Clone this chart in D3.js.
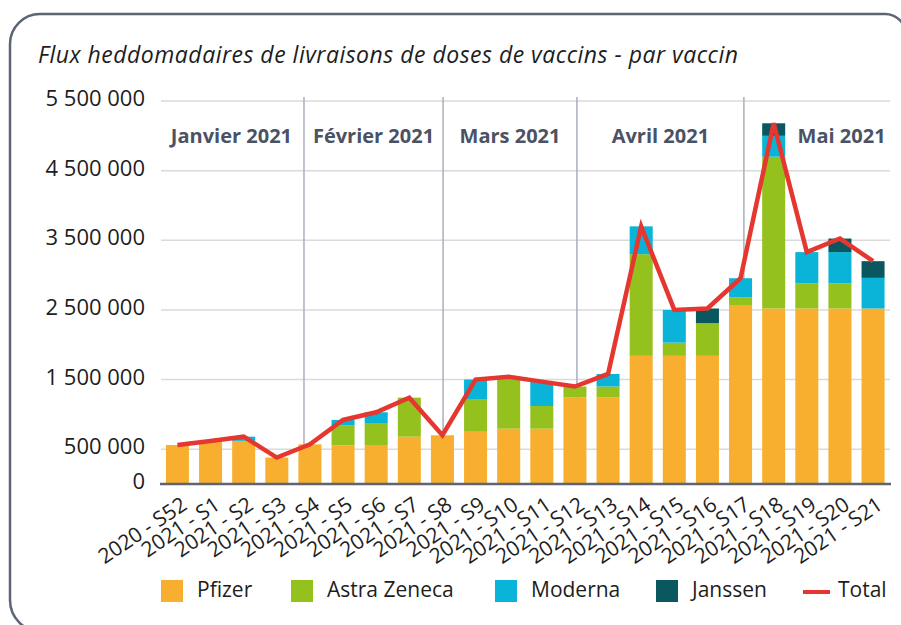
<!DOCTYPE html>
<html><head><meta charset="utf-8">
<script src="https://cdn.jsdelivr.net/npm/d3@7"></script>
<style>
body{margin:0;background:#fff}
svg{display:block}
text{font-family:"Open Sans",sans-serif}
</style>
</head><body>
<svg id="chart" width="901" height="625"></svg>
<script>
const categories = ["2020 - S52","2021 - S1","2021 - S2","2021 - S3","2021 - S4","2021 - S5","2021 - S6","2021 - S7","2021 - S8","2021 - S9","2021 - S10","2021 - S11","2021 - S12","2021 - S13","2021 - S14","2021 - S15","2021 - S16","2021 - S17","2021 - S18","2021 - S19","2021 - S20","2021 - S21"];
const pfizer      = [560000,618000,620000,380000,570000,556000,560000,680000,700000,750000,795000,795000,1246000,1246000,1840000,1840000,1840000,2570000,2520000,2520000,2520000,2520000];
const astraZeneca = [0,0,0,0,0,284000,316000,560000,0,470000,745000,325000,154000,154000,1460000,190000,470000,110000,2180000,360000,360000,0];
const moderna     = [0,0,60000,0,0,80000,154000,0,0,280000,0,350000,0,180000,400000,470000,0,275000,300000,450000,450000,440000];
const janssen     = [0,0,0,0,0,0,0,0,0,0,0,0,0,0,0,0,210000,0,180000,0,195000,240000];
const seriesNames = ["Pfizer","Astra Zeneca","Moderna","Janssen"];
const yTicks = [0,500000,1500000,2500000,3500000,4500000,5500000];
const months = ["Janvier 2021","Février 2021","Mars 2021","Avril 2021","Mai 2021"];
const monthBounds = [-0.56, 3.82, 8.02, 12.06, 17.1, 23.0];
const title = "Flux heddomadaires de livraisons de doses de vaccins - par vaccin";

const colors = {"Pfizer":"#f8af2f","Astra Zeneca":"#95c11f","Moderna":"#0ab4d9","Janssen":"#0b5760"};
const totalColor = "#e5372f";

const rows = categories.map((c,i)=>({cat:c,"Pfizer":pfizer[i],"Astra Zeneca":astraZeneca[i],"Moderna":moderna[i],"Janssen":janssen[i]}));
const totals = rows.map(r=>seriesNames.reduce((s,k)=>s+r[k],0));

const svg = d3.select("#chart");

// frame
const fp = d3.path();
fp.moveTo(10, 600);
fp.lineTo(10, 44);
fp.arcTo(10, 14, 40, 14, 30);
fp.lineTo(885, 14);
fp.arcTo(906, 14, 906, 35, 21);
fp.lineTo(906, 640);
svg.append("path").attr("d", fp.toString()).attr("fill","none").attr("stroke","#5d6574").attr("stroke-width",2.5);
const fp2 = d3.path();
fp2.moveTo(10, 600);
fp2.arcTo(10, 632, 42, 632, 32);
fp2.lineTo(906, 632);
svg.append("path").attr("d", fp2.toString()).attr("fill","none").attr("stroke","#5d6574").attr("stroke-width",2.5);

// title
svg.append("text").attr("x",38).attr("y",63).attr("font-size",23).attr("letter-spacing",0.5)
  .attr("font-style","italic").attr("fill","#1d1d1d").text(title);

const x = d3.scaleBand().domain(categories).range([159.3, 891.2]).paddingInner(0.305).paddingOuter(0.2);
const y = d3.scaleLinear().domain([0,5500000]).range([484,101]);
const xi = d3.scaleLinear().domain([0, categories.length-1]).range([x(categories[0])+x.bandwidth()/2, x(categories[categories.length-1])+x.bandwidth()/2]);

const fmt = d3.formatLocale({decimal:",",thousands:" ",grouping:[3],currency:["","€"]}).format(",d");

// gridlines
svg.append("g").selectAll("line").data(yTicks.filter(d=>d>0)).join("line")
  .attr("x1",161).attr("x2",890).attr("y1",d=>y(d)).attr("y2",d=>y(d))
  .attr("stroke","#dadada").attr("stroke-width",1.5);

// y labels
svg.append("g").selectAll("text").data(yTicks).join("text")
  .attr("x",145).attr("y",d=>y(d)+5).attr("text-anchor","end")
  .attr("font-size",22).attr("fill","#1d1d1d").text(d=>fmt(d));

// month separators
svg.append("g").selectAll("line").data(monthBounds.slice(1,-1)).join("line")
  .attr("x1",d=>xi(d)).attr("x2",d=>xi(d)).attr("y1",97).attr("y2",484)
  .attr("stroke","#a9b0bc").attr("stroke-width",1.5);

// month labels
svg.append("g").selectAll("text").data(months).join("text")
  .attr("x",(d,i)=>xi((monthBounds[i]+monthBounds[i+1])/2)).attr("y",143)
  .attr("text-anchor","middle").attr("font-size",20).attr("font-weight",700).attr("fill","#4a5263").text(d=>d);

// bars
const stacked = d3.stack().keys(seriesNames)(rows);
svg.append("g").selectAll("g").data(stacked).join("g").attr("fill",d=>colors[d.key])
  .selectAll("rect").data(d=>d).join("rect")
  .attr("x",d=>x(d.data.cat)).attr("width",x.bandwidth())
  .attr("y",d=>y(d[1])).attr("height",d=>Math.max(0,y(d[0])-y(d[1])));

// baseline
svg.append("line").attr("x1",160).attr("x2",891).attr("y1",y(0)).attr("y2",y(0)).attr("stroke","#5d6574").attr("stroke-width",2.5);

// total line
svg.append("path").datum(totals)
  .attr("d", d3.line().x((d,i)=>x(categories[i])+x.bandwidth()/2).y(d=>y(d)))
  .attr("fill","none").attr("stroke",totalColor).attr("stroke-width",4.5).attr("stroke-linejoin","miter");

// x labels
svg.append("g").selectAll("text").data(categories).join("text")
  .attr("transform",d=>`translate(${x(d)+x.bandwidth()/2+11},508) rotate(-34)`)
  .attr("text-anchor","end").attr("font-size",21).attr("fill","#1d1d1d").text(d=>d);

// legend
const legendX = [161, 291, 495, 656];
const lg = svg.append("g");
seriesNames.forEach((k,i)=>{
  lg.append("rect").attr("x",legendX[i]).attr("y",580).attr("width",22).attr("height",22).attr("fill",colors[k]);
  lg.append("text").attr("x",legendX[i]+36).attr("y",597).attr("font-size",21).attr("fill","#1d1d1d").text(k);
});
lg.append("line").attr("x1",803).attr("x2",830).attr("y1",592).attr("y2",592).attr("stroke",totalColor).attr("stroke-width",4);
lg.append("text").attr("x",838).attr("y",597).attr("font-size",21).attr("fill","#1d1d1d").text("Total");
</script>
</body></html>
